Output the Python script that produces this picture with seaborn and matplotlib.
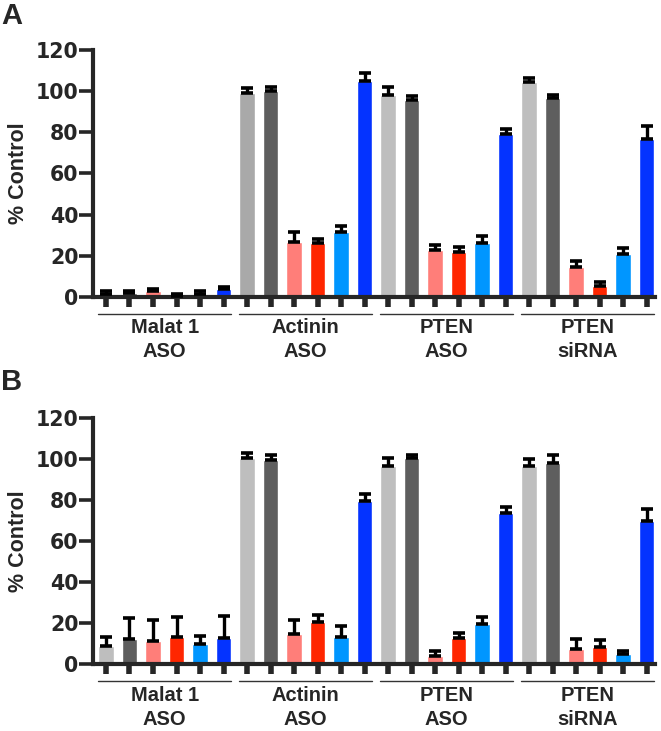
import matplotlib
matplotlib.use("Agg")
import matplotlib.pyplot as plt
import matplotlib.transforms as mtransforms
import seaborn as sns
import pandas as pd
import numpy as np

# ---------------- data ----------------
groups = ["Malat 1\nASO", "Actinin\nASO", "PTEN\nASO", "PTEN\nsiRNA"]
conditions = ["c1", "c2", "c3", "c4", "c5", "c6"]
yticks = [0, 20, 40, 60, 80, 100, 120]

a_malat = [1.5, 2.0, 3.0, 0.3, 1.5, 3.8]
a_malat_err = [1.5, 1.0, 0.9, 1.2, 1.5, 1.2]
a_actinin = [99.0, 100.0, 26.5, 26.0, 31.5, 105.0]
a_actinin_err = [2.7, 2.0, 5.0, 2.0, 3.0, 4.0]
a_pten_aso = [98.0, 95.5, 23.0, 22.0, 26.0, 79.0]
a_pten_aso_err = [4.0, 2.0, 2.4, 2.4, 3.4, 2.7]
a_pten_si = [104.5, 96.5, 14.5, 5.5, 20.7, 77.0]
a_pten_si_err = [1.7, 1.6, 3.0, 2.0, 3.3, 6.2]

b_malat = [9.0, 12.2, 11.5, 13.5, 10.0, 13.0]
b_malat_err = [4.5, 10.3, 9.9, 9.5, 4.0, 10.3]
b_actinin = [100.2, 99.4, 14.6, 20.4, 13.1, 79.6]
b_actinin_err = [2.8, 2.4, 6.9, 3.6, 5.7, 3.3]
b_pten_aso = [96.6, 100.2, 4.0, 12.6, 19.6, 73.5]
b_pten_aso_err = [3.9, 1.6, 2.6, 2.5, 3.6, 3.2]
b_pten_si = [96.6, 97.8, 7.3, 8.3, 5.0, 69.9]
b_pten_si_err = [3.2, 4.0, 5.0, 3.5, 1.5, 5.5]

base_colors = {"c1": "#BEBEBE", "c2": "#5E5E5E", "c3": "#FF7E79",
               "c4": "#FF2600", "c5": "#0096FF", "c6": "#0433FF"}
# panel A: first two groups use a slightly darker light grey
darker_c1 = {("A", 0): "#A9A9A9", ("A", 1): "#A9A9A9"}

panels = {
    "A": ([a_malat, a_actinin, a_pten_aso, a_pten_si],
          [a_malat_err, a_actinin_err, a_pten_aso_err, a_pten_si_err]),
    "B": ([b_malat, b_actinin, b_pten_aso, b_pten_si],
          [b_malat_err, b_actinin_err, b_pten_aso_err, b_pten_si_err]),
}

# ---------------- style ----------------
sns.set_style("ticks")
plt.rcParams["font.family"] = ["Liberation Sans", "DejaVu Sans"]
plt.rcParams["font.weight"] = "bold"

W, H = 661, 731
fig = plt.figure(figsize=(W / 100, H / 100), dpi=100)

axes_px = {"A": (50, 297), "B": (417.7, 664.3)}  # top, bottom of data area
left_px, right_px = 93, 655
label_top = {"A": 2, "B": 368}

for name, (vals, errs) in panels.items():
    top, bot = axes_px[name]
    ax = fig.add_axes([left_px / W, 1 - bot / H, (right_px - left_px) / W, (bot - top) / H])

    rows = []
    pal = {}
    for gi, (g, v, e) in enumerate(zip(groups, vals, errs)):
        for c, vv, ee in zip(conditions, v, e):
            key = f"{g}|{c}"
            rows.append({"bar": key, "group": g, "cond": c, "value": vv, "err": ee})
            col = base_colors[c]
            if c == "c1" and (name, gi) in darker_c1:
                col = darker_c1[(name, gi)]
            pal[key] = col
    df = pd.DataFrame(rows)
    order = list(df["bar"])

    sns.barplot(data=df, x="bar", y="value", hue="bar", order=order,
                hue_order=order, palette=pal, dodge=False, width=0.66,
                errorbar=None, legend=False, ax=ax, saturation=1, zorder=2)

    xs = np.arange(len(order))
    ax.errorbar(xs, df["value"], yerr=[np.zeros(len(df)), df["err"]],
                fmt="none", ecolor="black", elinewidth=2.4, capsize=4.5,
                capthick=2.6, zorder=3, clip_on=False)

    ax.set_xlim(-0.553, len(order) - 1 + 0.36)
    ax.set_ylim(0, 120)
    ax.set_yticks(yticks)
    ax.set_yticklabels([str(t) for t in yticks], fontsize=14.8,
                       fontweight="bold", family="DejaVu Sans")
    ax.set_xticks(xs)
    ax.set_xticklabels([""] * len(xs))
    ax.set_xlabel("")
    ax.set_ylabel("")
    ax.tick_params(axis="y", length=10, width=2.6, pad=0.5, direction="out")
    ax.tick_params(axis="x", length=7, width=4, direction="out")
    for s in ["top", "right"]:
        ax.spines[s].set_visible(False)
    ax.spines["left"].set_linewidth(3)
    ax.spines["bottom"].set_linewidth(3)

    # group lines and labels
    trans = mtransforms.blended_transform_factory(ax.transData, ax.transAxes)
    hw = 0.33
    axh = bot - top
    for gi, g in enumerate(groups):
        x0 = gi * 6 - hw
        x1 = gi * 6 + 5 + hw
        ax.plot([x0, x1], [-17 / axh, -17 / axh], color="#333333", lw=1,
                transform=trans, clip_on=False)
        l1, l2 = g.split("\n")
        xc = (x0 + x1) / 2
        ax.text(xc, -31 / axh, l1, transform=trans, ha="center", va="center",
                fontsize=14.5, fontweight="bold")
        ax.text(xc, -55 / axh, l2, transform=trans, ha="center", va="center",
                fontsize=14.5, fontweight="bold")

    ax.text(-75 / (right_px - left_px), 0.5, "% Control", transform=ax.transAxes,
            rotation=90, ha="center", va="center", fontsize=15.5, fontweight="bold")

    fig.text(1 / W, 1 - label_top[name] / H, name, ha="left", va="top",
             fontsize=21, fontweight="bold")

fig.savefig("out.png", dpi=100)
